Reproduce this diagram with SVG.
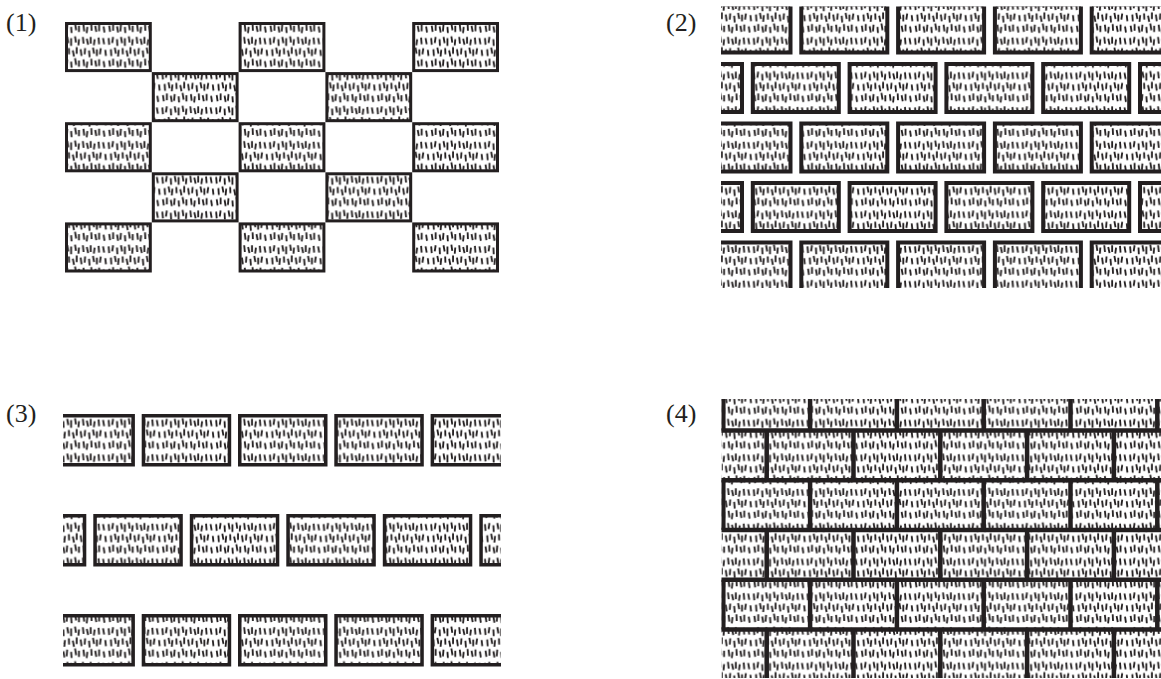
<svg xmlns="http://www.w3.org/2000/svg" width="1161" height="679" viewBox="0 0 1161 679">
<style>
.lbl{font-family:"Liberation Serif","Times New Roman",serif;font-size:26px;fill:#231f20}
.b1{fill:url(#tex);stroke:#231f20;stroke-width:3}
.b2{fill:url(#tex);stroke:#231f20;stroke-width:4}
.b3{fill:url(#tex);stroke:#231f20;stroke-width:3.5}
.mortar{fill:none;stroke:#231f20;stroke-width:4.5}
</style>
<defs>
<pattern id="tex" patternUnits="userSpaceOnUse" width="48" height="31" patternTransform="scale(1.12)">
<path fill="none" stroke="#231f20" stroke-width="1.65" d="M1 3l0.5 6M5 2l-0.8 5.5M8.5 4l0.3 6M12 2l1 5.5M15.5 3l0 7M19 1.5l0.8 5.5M22.5 4l-0.5 5.5M26 2l0.6 6M29.5 3.5l1.2 5.5M33 2l0 6M36.5 4l-0.7 5.5M40 2.5l0.5 6M44 3l1 5.5M3 13l0.4 6M6.5 11.5l1 5.5M10 13.5l-0.6 6M13.5 12l0.2 5.5M17 14l1.1 5.5M20.5 11l0 6M24 13l0.8 6M28 12l-0.4 5.5M31.5 14l0.5 6M35 11.5l1 5.5M38.5 13l0 6M42 12l-0.8 5.5M46 13.5l0.6 5.5M1.5 23l0.8 5.5M5 21.5l0 6M8.5 23.5l1 5.5M12 22l-0.5 6M15.5 24l0.4 5.5M19 21l1 6M22.5 23l0 5.5M26.5 22l0.7 6M30 24l-0.6 5.5M33.5 21.5l0.3 6M37 23l1 5.5M40.5 22l0 6M44.5 23.5l0.8 5.5"/>
</pattern>
<clipPath id="c2"><rect x="721" y="6.5" width="440" height="281.5"/></clipPath>
<clipPath id="c3"><rect x="63" y="405" width="438" height="274"/></clipPath>
<clipPath id="c4"><rect x="721.5" y="399" width="439.5" height="279"/></clipPath>
</defs>
<rect width="1161" height="679" fill="#fff"/>

<g id="panel1">
<text class="lbl" x="6" y="31">(1)</text>
<rect class="b1" x="66.5" y="23.5" width="83.8" height="47.1"/>
<rect class="b1" x="240.1" y="23.5" width="83.8" height="47.1"/>
<rect class="b1" x="413.7" y="23.5" width="83.8" height="47.1"/>
<rect class="b1" x="153.3" y="73.6" width="83.8" height="47.1"/>
<rect class="b1" x="326.9" y="73.6" width="83.8" height="47.1"/>
<rect class="b1" x="66.5" y="123.7" width="83.8" height="47.1"/>
<rect class="b1" x="240.1" y="123.7" width="83.8" height="47.1"/>
<rect class="b1" x="413.7" y="123.7" width="83.8" height="47.1"/>
<rect class="b1" x="153.3" y="173.8" width="83.8" height="47.1"/>
<rect class="b1" x="326.9" y="173.8" width="83.8" height="47.1"/>
<rect class="b1" x="66.5" y="223.9" width="83.8" height="47.1"/>
<rect class="b1" x="240.1" y="223.9" width="83.8" height="47.1"/>
<rect class="b1" x="413.7" y="223.9" width="83.8" height="47.1"/>
</g>

<g id="panel2">
<text class="lbl" x="666" y="31">(2)</text>
<g clip-path="url(#c2)">
<rect class="b2" x="704.5" y="4.5" width="86" height="48"/>
<rect class="b2" x="801.3" y="4.5" width="86" height="48"/>
<rect class="b2" x="898.1" y="4.5" width="86" height="48"/>
<rect class="b2" x="994.9" y="4.5" width="86" height="48"/>
<rect class="b2" x="1091.7" y="4.5" width="86" height="48"/>
<rect class="b2" x="656" y="64" width="86" height="48"/>
<rect class="b2" x="752.8" y="64" width="86" height="48"/>
<rect class="b2" x="849.6" y="64" width="86" height="48"/>
<rect class="b2" x="946.4" y="64" width="86" height="48"/>
<rect class="b2" x="1043.2" y="64" width="86" height="48"/>
<rect class="b2" x="1140" y="64" width="86" height="48"/>
<rect class="b2" x="704.5" y="123.5" width="86" height="48"/>
<rect class="b2" x="801.3" y="123.5" width="86" height="48"/>
<rect class="b2" x="898.1" y="123.5" width="86" height="48"/>
<rect class="b2" x="994.9" y="123.5" width="86" height="48"/>
<rect class="b2" x="1091.7" y="123.5" width="86" height="48"/>
<rect class="b2" x="656" y="183" width="86" height="48"/>
<rect class="b2" x="752.8" y="183" width="86" height="48"/>
<rect class="b2" x="849.6" y="183" width="86" height="48"/>
<rect class="b2" x="946.4" y="183" width="86" height="48"/>
<rect class="b2" x="1043.2" y="183" width="86" height="48"/>
<rect class="b2" x="1140" y="183" width="86" height="48"/>
<rect class="b2" x="704.5" y="242.5" width="86" height="48"/>
<rect class="b2" x="801.3" y="242.5" width="86" height="48"/>
<rect class="b2" x="898.1" y="242.5" width="86" height="48"/>
<rect class="b2" x="994.9" y="242.5" width="86" height="48"/>
<rect class="b2" x="1091.7" y="242.5" width="86" height="48"/>
</g>
</g>

<g id="panel3">
<text class="lbl" x="6" y="422">(3)</text>
<g clip-path="url(#c3)">
<rect class="b3" x="47.15" y="415.75" width="86" height="49"/>
<rect class="b3" x="143.45" y="415.75" width="86" height="49"/>
<rect class="b3" x="239.75" y="415.75" width="86" height="49"/>
<rect class="b3" x="336.05" y="415.75" width="86" height="49"/>
<rect class="b3" x="432.35" y="415.75" width="86" height="49"/>
<rect class="b3" x="-1.45" y="515.75" width="86" height="49"/>
<rect class="b3" x="95.05" y="515.75" width="86" height="49"/>
<rect class="b3" x="191.55" y="515.75" width="86" height="49"/>
<rect class="b3" x="288.05" y="515.75" width="86" height="49"/>
<rect class="b3" x="384.55" y="515.75" width="86" height="49"/>
<rect class="b3" x="481.05" y="515.75" width="86" height="49"/>
<rect class="b3" x="47.15" y="615.75" width="86" height="49"/>
<rect class="b3" x="143.45" y="615.75" width="86" height="49"/>
<rect class="b3" x="239.75" y="615.75" width="86" height="49"/>
<rect class="b3" x="336.05" y="615.75" width="86" height="49"/>
<rect class="b3" x="432.35" y="615.75" width="86" height="49"/>
</g>
</g>

<g id="panel4">
<text class="lbl" x="666" y="422">(4)</text>
<g clip-path="url(#c4)">
<rect x="721.5" y="399" width="439.5" height="279" fill="url(#tex)"/>
<path class="mortar" d="M715 430.5H1161M715 480.2H1161M715 530H1161M715 579.8H1161M715 629.5H1161"/>
<path class="mortar" d="M723.3 381V430.5M810.1 381V430.5M896.9 381V430.5M983.7 381V430.5M1070.5 381V430.5M1157.3 381V430.5
M766.7 430.5V480.2M853.5 430.5V480.2M940.3 430.5V480.2M1027.1 430.5V480.2M1113.9 430.5V480.2
M723.3 480.2V530M810.1 480.2V530M896.9 480.2V530M983.7 480.2V530M1070.5 480.2V530M1157.3 480.2V530
M766.7 530V579.8M853.5 530V579.8M940.3 530V579.8M1027.1 530V579.8M1113.9 530V579.8
M723.3 579.8V629.5M810.1 579.8V629.5M896.9 579.8V629.5M983.7 579.8V629.5M1070.5 579.8V629.5M1157.3 579.8V629.5
M766.7 629.5V679M853.5 629.5V679M940.3 629.5V679M1027.1 629.5V679M1113.9 629.5V679"/>
</g>
</g>
</svg>
